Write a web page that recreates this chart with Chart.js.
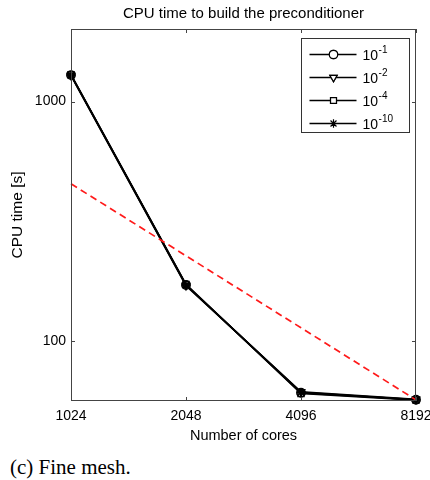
<!DOCTYPE html>
<html>
<head>
<meta charset="utf-8">
<script src="https://cdn.jsdelivr.net/npm/chart.js@4/dist/chart.umd.min.js"></script>
<style>
  html, body { margin: 0; padding: 0; background: #fff; }
  #wrap { position: relative; width: 430px; height: 480px; }
  #c { position: absolute; left: 0; top: 0; }
  #caption { position: absolute; left: 10px; top: 455px; font-family: "Liberation Serif", "Times New Roman", serif; font-size: 21px; line-height: 24px; color: #000; }
</style>
</head>
<body>
<div id="wrap">
  <canvas id="c" width="430" height="450"></canvas>
  <div id="caption">(c) Fine mesh.</div>
</div>
<script>
// ---- data ----
const cores = [1024, 2048, 4096, 8192];
const tol1  = [1290, 171, 60.6, 56.7];   // 10^-1
const tol2  = [1285, 170, 61.2, 56.9];   // 10^-2
const tol4  = [1295, 172, 60.2, 56.5];   // 10^-4
const tol10 = [1292, 171, 60.9, 56.6];   // 10^-10
const ideal = [453, 226.5, 113.3, 56.6]; // ideal scaling (red dashed)
const legendBase = "10";
const legendExp = ["-1", "-2", "-4", "-10"];
const xTicks = [1024, 2048, 4096, 8192];
const yTicks = [100, 1000];
const titleText = "CPU time to build the preconditioner";
const xTitle = "Number of cores";
const yTitle = "CPU time [s]";

const FONT = "'Liberation Sans', Arial, Helvetica, sans-serif";
const markers = [
  { style: 'circle', rot: 0 },
  { style: 'triangle', rot: 180 },
  { style: 'rect', rot: 0 },
  { style: 'star', rot: 0 }
];
const seriesList = [tol1, tol2, tol4, tol10];

const pts = arr => cores.map((c, i) => ({ x: c, y: arr[i] }));

const datasets = seriesList.map((s, i) => ({
  label: legendBase + "^" + legendExp[i],
  data: pts(s),
  borderColor: '#000',
  borderWidth: 1.7,
  backgroundColor: 'rgba(255,255,255,0)',
  pointStyle: markers[i].style,
  rotation: markers[i].rot,
  pointRadius: 4.2,
  pointBorderWidth: 1.5,
  pointBorderColor: '#000',
  pointBackgroundColor: 'rgba(255,255,255,0)',
  fill: false,
  tension: 0,
  clip: false,
  order: 2
}));
datasets.push({
  label: 'ideal',
  data: pts(ideal),
  borderColor: '#ff1a1a',
  borderWidth: 1.7,
  borderDash: [7, 4.5],
  pointRadius: 0,
  fill: false,
  tension: 0,
  clip: false,
  order: 1
});

// box, inward ticks, legend
const decor = {
  id: 'decor',
  afterDatasetsDraw(chart) {
    const { ctx, chartArea: a, scales } = chart;
    ctx.save();
    ctx.strokeStyle = '#444';
    ctx.lineWidth = 1;
    ctx.strokeRect(Math.round(a.left) + 0.5, Math.round(a.top) + 0.5,
                   Math.round(a.right - a.left) - 1, Math.round(a.bottom - a.top) - 1);
    const tl = 4;
    ctx.beginPath();
    xTicks.forEach(v => {
      const x = Math.round(scales.x.getPixelForValue(v)) + 0.5;
      ctx.moveTo(x, a.bottom); ctx.lineTo(x, a.bottom - tl);
      ctx.moveTo(x, a.top); ctx.lineTo(x, a.top + tl);
    });
    yTicks.forEach(v => {
      const y = Math.round(scales.y.getPixelForValue(v)) + 0.5;
      ctx.moveTo(a.left, y); ctx.lineTo(a.left + tl, y);
      ctx.moveTo(a.right, y); ctx.lineTo(a.right - tl, y);
    });
    ctx.stroke();

    // legend
    const bw = 108, bh = 94;
    const bx = Math.round(a.right - 7 - bw) + 0.5;
    const by = Math.round(a.top + 9) + 0.5;
    ctx.fillStyle = '#fff';
    ctx.fillRect(bx, by, bw, bh);
    ctx.strokeStyle = '#333';
    ctx.strokeRect(bx, by, bw, bh);
    for (let i = 0; i < 4; i++) {
      const y = by + 16 + i * 23;
      const x0 = bx + 8, x1 = bx + 55, xm = bx + 32;
      ctx.strokeStyle = '#000';
      ctx.lineWidth = 1.5;
      ctx.beginPath(); ctx.moveTo(x0, y); ctx.lineTo(x1, y); ctx.stroke();
      ctx.fillStyle = '#fff';
      ctx.lineWidth = 1.2;
      ctx.strokeStyle = '#000';
      Chart.helpers.drawPoint(ctx, {
        pointStyle: markers[i].style, rotation: markers[i].rot,
        radius: 4.2, borderWidth: 1.2
      }, xm, y);
      if (markers[i].style !== 'star') { ctx.fill(); ctx.stroke(); }
      ctx.fillStyle = '#000';
      ctx.textBaseline = 'middle';
      ctx.textAlign = 'left';
      ctx.font = '14px ' + FONT;
      const tx = bx + 61;
      ctx.fillText(legendBase, tx, y + 2);
      const w = ctx.measureText(legendBase).width;
      ctx.font = '10px ' + FONT;
      ctx.fillText(legendExp[i], tx + w + 0.5, y - 4);
    }
    ctx.restore();
  }
};

new Chart(document.getElementById('c'), {
  type: 'line',
  data: { datasets },
  plugins: [decor],
  options: {
    responsive: false,
    animation: false,
    devicePixelRatio: 1,
    layout: { padding: { top: 0, right: 14, left: 0, bottom: 0 } },
    plugins: {
      legend: { display: false },
      tooltip: { enabled: false },
      title: {
        display: true,
        fullSize: false,
        text: titleText,
        color: '#000',
        font: { family: FONT, size: 15, weight: 'normal' },
        padding: { top: 5, bottom: 6 }
      }
    },
    scales: {
      x: {
        type: 'logarithmic',
        min: 1024, max: 8192,
        grid: { display: false, drawTicks: false },
        border: { display: false },
        afterBuildTicks: s => { s.ticks = xTicks.map(v => ({ value: v })); },
        afterFit: s => { s.height = 49; s.paddingLeft = 0; s.paddingRight = 0; },
        ticks: {
          color: '#000', padding: 7, maxRotation: 0, autoSkip: false,
          font: { family: FONT, size: 14 },
          callback: v => String(v)
        },
        title: {
          display: true, text: xTitle, color: '#000',
          font: { family: FONT, size: 14.5 },
          padding: { top: 0, bottom: 5.3 }
        }
      },
      y: {
        type: 'logarithmic',
        min: 56, max: 2010,
        grid: { display: false, drawTicks: false },
        border: { display: false },
        afterBuildTicks: s => { s.ticks = yTicks.map(v => ({ value: v })); },
        afterFit: s => { s.width = 71; s.paddingTop = 0; s.paddingBottom = 0; },
        ticks: {
          color: '#000', padding: 5, autoSkip: false,
          font: { family: FONT, size: 14 },
          callback: v => String(v)
        },
        title: {
          display: true, text: yTitle, color: '#000',
          font: { family: FONT, size: 15.5 },
          padding: { top: 8.5, bottom: 0 }
        }
      }
    }
  }
});
</script>
</body>
</html>
